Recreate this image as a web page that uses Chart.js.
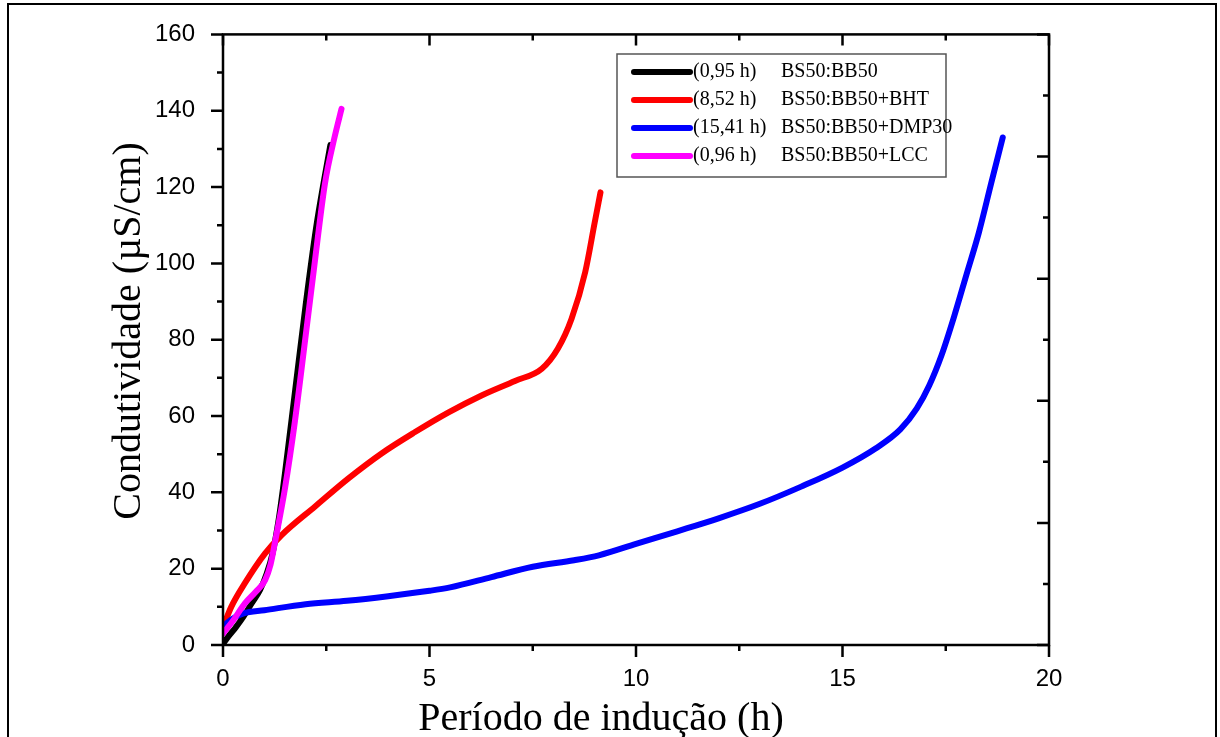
<!DOCTYPE html>
<html>
<head>
<meta charset="utf-8">
<script src="https://cdn.jsdelivr.net/npm/chart.js@4.4.1/dist/chart.umd.min.js"></script>
<style>
  html, body { margin: 0; padding: 0; background: #fff; }
</style>
</head>
<body>
<canvas id="chart" width="1220" height="737"></canvas>
<script>
// series labels, as in the legend
const inductionTimes = ['(0,95 h)', '(8,52 h)', '(15,41 h)', '(0,96 h)'];
const seriesNames = ['BS50:BB50', 'BS50:BB50+BHT', 'BS50:BB50+DMP30', 'BS50:BB50+LCC'];
const seriesColors = ['#000000', '#ff0000', '#0000ff', '#ff00ff'];

// values (time in h, conductivity in uS/cm)
const bb50X = [0, 0.15, 0.3, 0.5, 0.7, 0.9, 1.05, 1.2, 1.35, 1.5, 1.75, 2.0, 2.25, 2.45, 2.6];
const bb50Y = [0.3, 2.5, 4.5, 7.5, 11, 14.5, 18.5, 24, 33, 45, 67, 89, 109, 122, 131];

const bhtX = [0, 0.2, 0.53, 1.02, 1.42, 2.23, 3.03, 3.84, 4.65, 5.45, 6.26, 7.07, 7.72, 8.11, 8.44, 8.77, 9.0, 9.14];
const bhtY = [4.7, 10, 16.2, 24, 28.8, 36.3, 43.6, 50.2, 55.8, 60.9, 65.4, 69.2, 72.4, 77.7, 85.5, 97.7, 110.7, 118.6];

const dmpX = [0, 0.25, 0.5, 1, 2, 3, 4, 5, 5.5, 6.5, 7.5, 8.5, 9.1, 10, 11, 12, 13, 14, 15, 15.8, 16.4, 16.8, 17.1, 17.4, 17.7, 18, 18.3, 18.6, 18.88];
const dmpY = [5, 7, 8.3, 9.1, 10.7, 11.6, 12.8, 14.2, 15.1, 17.8, 20.5, 22.2, 23.5, 26.5, 29.8, 33.2, 37, 41.5, 46.5, 51.5, 56.5, 62, 68, 76, 86, 97, 108, 121, 133];

const lccX = [0, 0.25, 0.53, 0.8, 1.02, 1.15, 1.26, 1.5, 1.74, 1.99, 2.23, 2.47, 2.7, 2.87];
const lccY = [3, 6.5, 10.9, 14, 17, 21, 27, 41, 58.5, 80, 101, 121, 133, 140.5];

const xTicks = [0, 5, 10, 15, 20];
const yTicks = [0, 20, 40, 60, 80, 100, 120, 140, 160];

const xTitle = 'Período de indução (h)';
const yTitle = 'Condutividade (µS/cm)';

function pts(xs, ys) {
  return xs.map((x, i) => ({ x: x, y: ys[i] }));
}

const allX = [bb50X, bhtX, dmpX, lccX];
const allY = [bb50Y, bhtY, dmpY, lccY];
const drawOrder = [3, 2, 1, 0]; // magenta ends up on top

const datasets = seriesNames.map((name, i) => ({
  label: inductionTimes[i] + ' ' + name,
  data: pts(allX[i], allY[i]),
  borderColor: seriesColors[i],
  backgroundColor: seriesColors[i],
  borderWidth: 6,
  borderCapStyle: 'round',
  borderJoinStyle: 'round',
  pointRadius: 0,
  cubicInterpolationMode: 'monotone',
  fill: false,
  order: drawOrder[i]
}));

// box, tick marks (major + minor on all four sides), axis titles and the legend
const framePlugin = {
  id: 'frame',
  afterDraw(chart) {
    const ctx = chart.ctx;
    const xs = chart.scales.x, ys = chart.scales.y;
    const a = chart.chartArea;
    ctx.save();
    ctx.strokeStyle = '#000';
    ctx.lineCap = 'butt';

    // outer figure border
    ctx.lineWidth = 2;
    ctx.strokeRect(8, 4, 1208, 760);

    // plot box
    ctx.lineWidth = 2.5;
    ctx.strokeRect(a.left, a.top, a.right - a.left, a.bottom - a.top);

    ctx.beginPath();
    // bottom (out) and top (in), every 2.5 h
    for (let v = 0; v <= 20; v += 2.5) {
      const px = xs.getPixelForValue(v);
      const major = v % 5 === 0;
      ctx.moveTo(px, a.bottom);
      ctx.lineTo(px, a.bottom + (major ? 12 : 6));
      ctx.moveTo(px, a.top);
      ctx.lineTo(px, a.top + (major ? 11 : 6));
    }
    // left (out), every 10
    for (let v = 0; v <= 160; v += 10) {
      const py = ys.getPixelForValue(v);
      ctx.moveTo(a.left, py);
      ctx.lineTo(a.left - (v % 20 === 0 ? 12 : 6), py);
    }
    // right (in), every 16
    for (let v = 0; v <= 160; v += 16) {
      const py = ys.getPixelForValue(v);
      ctx.moveTo(a.right, py);
      ctx.lineTo(a.right - (v % 32 === 0 ? 12 : 6), py);
    }
    ctx.stroke();

    // axis titles
    ctx.fillStyle = '#000';
    ctx.font = '40px "Liberation Serif"';
    ctx.textAlign = 'center';
    ctx.textBaseline = 'alphabetic';
    ctx.fillText(xTitle, 601, 730);
    ctx.save();
    ctx.translate(140, 331);
    ctx.rotate(-Math.PI / 2);
    ctx.fillText(yTitle, 0, 0);
    ctx.restore();

    // legend
    const box = { left: 617, top: 54, right: 946, bottom: 177 };
    ctx.lineWidth = 1.5;
    ctx.strokeStyle = '#555';
    ctx.strokeRect(box.left, box.top, box.right - box.left, box.bottom - box.top);
    ctx.font = '20px "Liberation Serif"';
    ctx.textBaseline = 'middle';
    ctx.textAlign = 'left';
    seriesNames.forEach((name, i) => {
      const y = 72 + i * 28;
      ctx.beginPath();
      ctx.lineWidth = 6;
      ctx.lineCap = 'round';
      ctx.strokeStyle = seriesColors[i];
      ctx.moveTo(634, y);
      ctx.lineTo(690, y);
      ctx.stroke();
      ctx.fillText(inductionTimes[i], 693, y);
      ctx.fillText(name, 781, y);
    });
    ctx.restore();
  }
};

new Chart(document.getElementById('chart'), {
  type: 'line',
  data: { datasets: datasets },
  options: {
    responsive: false,
    animation: false,
    events: [],
    layout: { padding: { left: 0, top: 28, right: 171, bottom: 0 } },
    plugins: { legend: { display: false }, tooltip: { enabled: false } },
    scales: {
      x: {
        type: 'linear',
        position: 'bottom',
        min: 0,
        max: 20,
        afterFit: (s) => { s.height = 92; },
        afterBuildTicks: (s) => { s.ticks = xTicks.map(v => ({ value: v })); },
        grid: { display: false },
        border: { display: false },
        ticks: {
          color: '#000',
          padding: 12,
          maxRotation: 0,
          font: { family: '"Liberation Sans"', size: 24 }
        }
      },
      y: {
        type: 'linear',
        position: 'left',
        min: 0,
        max: 160,
        afterFit: (s) => { s.width = 223; },
        afterBuildTicks: (s) => { s.ticks = yTicks.map(v => ({ value: v })); },
        grid: { display: false },
        border: { display: false },
        ticks: {
          color: '#000',
          padding: 20,
          font: { family: '"Liberation Sans"', size: 24 }
        }
      }
    }
  },
  plugins: [framePlugin]
});
</script>
</body>
</html>
